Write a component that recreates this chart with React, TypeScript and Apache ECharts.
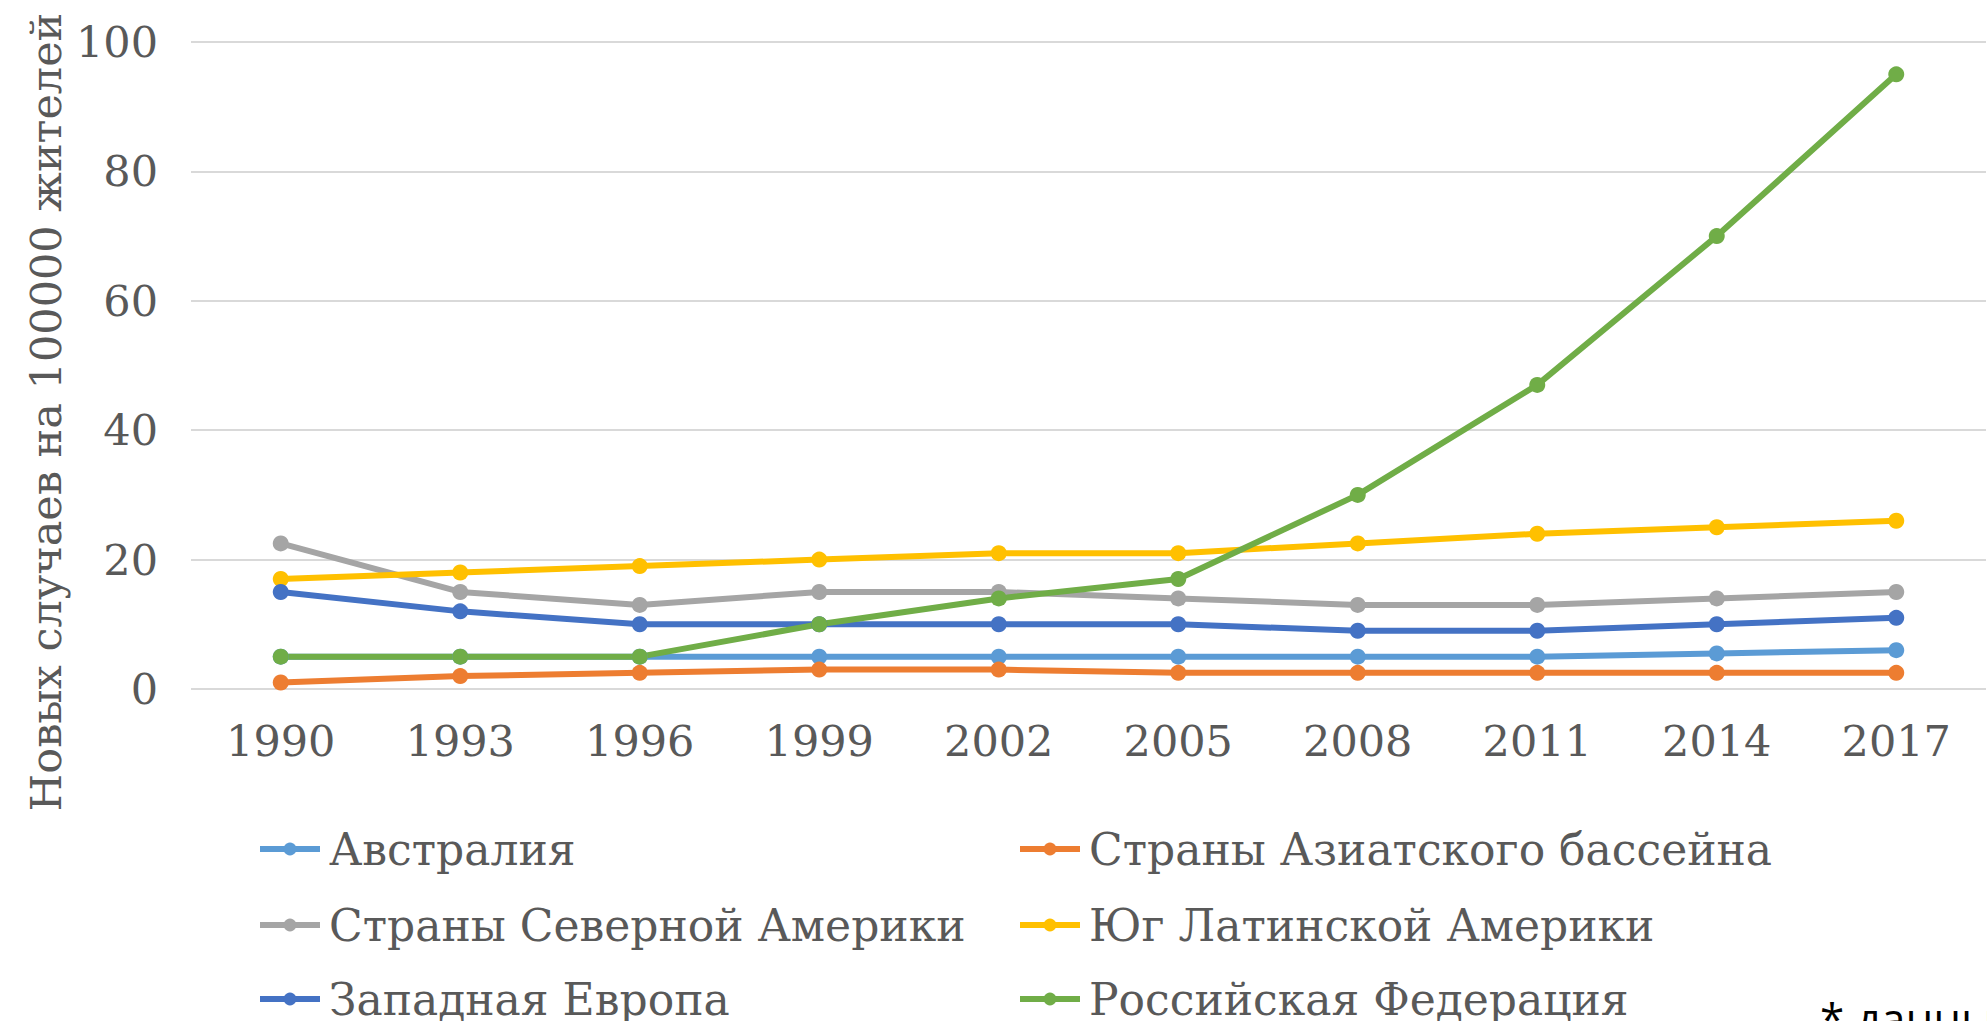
import React, { useEffect, useRef } from "react";
import * as echarts from "echarts";

const years = ["1990", "1993", "1996", "1999", "2002", "2005", "2008", "2011", "2014", "2017"];
const australia = [5, 5, 5, 5, 5, 5, 5, 5, 5.5, 6];
const asia = [1, 2, 2.5, 3, 3, 2.5, 2.5, 2.5, 2.5, 2.5];
const northAmerica = [22.5, 15, 13, 15, 15, 14, 13, 13, 14, 15];
const southLatAm = [17, 18, 19, 20, 21, 21, 22.5, 24, 25, 26];
const westEurope = [15, 12, 10, 10, 10, 10, 9, 9, 10, 11];
const russia = [5, 5, 5, 10, 14, 17, 30, 47, 70, 95];

const names = [
  "Австралия",
  "Страны Азиатского бассейна",
  "Страны Северной Америки",
  "Юг Латинской Америки",
  "Западная Европа",
  "Российская Федерация",
];
const colors = ["#5B9BD5", "#ED7D31", "#A5A5A5", "#FFC000", "#4472C4", "#70AD47"];
const values = [australia, asia, northAmerica, southLatAm, westEurope, russia];
const yAxisTitle = "Новых случаев на 100000 жителей";
const footnote = "* данные";

const FONT = "DejaVu Serif";
const TEXT = "#595959";

// legend slots: [left, centerY]
const legendPos = [
  [257, 849],
  [1017, 849],
  [257, 925],
  [1017, 925],
  [257, 999],
  [1017, 999],
];

export default function App() {
  const ref = useRef<HTMLDivElement>(null);
  useEffect(() => {
    document.body.style.margin = "0";
    const chart = echarts.init(ref.current!, null, { renderer: "svg" });
    chart.setOption({
      animation: false,
      backgroundColor: "#ffffff",
      grid: { left: 191, right: 1, top: 42, bottom: 332, containLabel: false },
      legend: names.map((n, i) => ({
        orient: "horizontal",
        left: legendPos[i][0],
        top: legendPos[i][1] - 25,
        padding: 0,
        data: [n],
        itemWidth: 60,
        itemHeight: 16,
        lineStyle: { width: 6 },
        textStyle: { fontFamily: FONT, fontSize: 44, color: TEXT, lineHeight: 50, padding: [0, 0, 0, 4] },
      })),
      xAxis: {
        type: "category",
        data: years,
        boundaryGap: true,
        axisLine: { show: false },
        axisTick: { show: false },
        axisLabel: { fontFamily: FONT, fontSize: 43, color: TEXT, margin: 30 },
      },
      yAxis: {
        type: "value",
        min: 0,
        max: 100,
        interval: 20,
        axisLine: { show: false },
        axisTick: { show: false },
        splitLine: { lineStyle: { color: "#D9D9D9", width: 2 } },
        axisLabel: { fontFamily: FONT, fontSize: 43, color: TEXT, margin: 33 },
      },
      graphic: [
        {
          type: "text",
          x: 46,
          y: 412,
          rotation: Math.PI / 2,
          style: {
            text: yAxisTitle,
            fontFamily: FONT,
            fontSize: 43,
            fill: TEXT,
            align: "center",
            verticalAlign: "middle",
          },
        },
        {
          type: "text",
          x: 1820,
          y: 996,
          style: {
            text: footnote,
            fontFamily: "Open Sans",
            fontSize: 44,
            fill: "#000000",
            align: "left",
            verticalAlign: "top",
          },
        },
      ],
      series: names.map((n, i) => ({
        name: n,
        type: "line",
        data: values[i],
        symbol: "circle",
        symbolSize: 16,
        lineStyle: { width: 6, color: colors[i] },
        itemStyle: { color: colors[i] },
      })),
    });
    return () => chart.dispose();
  }, []);
  return <div ref={ref} style={{ width: 1987, height: 1021 }} />;
}
